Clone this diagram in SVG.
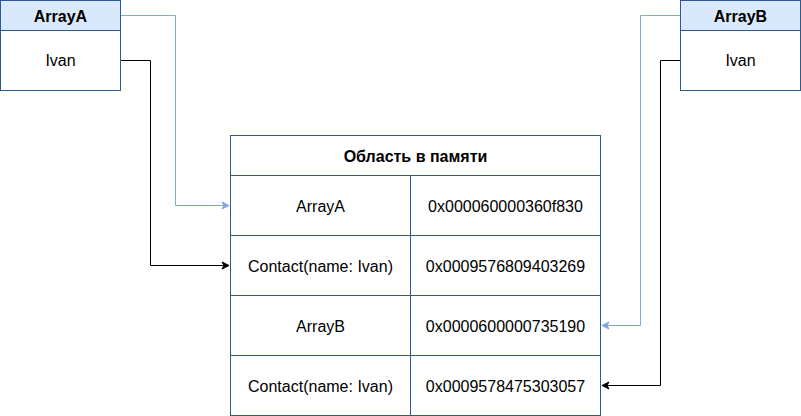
<svg xmlns="http://www.w3.org/2000/svg" width="801" height="416" viewBox="0 0 801 416">
<defs>
<style>
.box{fill:#ffffff;stroke:#2f5b8c;stroke-width:1}
.hdr{fill:#dae8fc;stroke:#2f5b8c;stroke-width:1}
.t{font-family:"Liberation Sans",Arial,sans-serif;font-size:16px;fill:#000;text-anchor:middle;dominant-baseline:central}
.b{font-weight:bold}
.blue{fill:none;stroke:#7ea6e0;stroke-width:1}
.black{fill:none;stroke:#000;stroke-width:1}
</style>
<marker id="ab" markerWidth="10" markerHeight="10" refX="8" refY="5" orient="auto" markerUnits="userSpaceOnUse"><path d="M1,1.5 L8,5 L1,8.5 L3,5 Z" fill="#7ea6e0" stroke="#7ea6e0"/></marker>
<marker id="ak" markerWidth="10" markerHeight="10" refX="8" refY="5" orient="auto" markerUnits="userSpaceOnUse"><path d="M1,1.5 L8,5 L1,8.5 L3,5 Z" fill="#000" stroke="#000"/></marker>
</defs>
<rect width="801" height="416" fill="#ffffff"/>
<g id="connectors">
<path class="blue" d="M120.5,15.5 H175.5 V205.5 H229" marker-end="url(#ab)"/>
<path class="black" d="M120.5,60.5 H150.5 V265.5 H229" marker-end="url(#ak)"/>
<path class="blue" d="M680.5,15.5 H640.5 V325.5 H602" marker-end="url(#ab)"/>
<path class="black" d="M680.5,60.5 H660.5 V385.5 H602" marker-end="url(#ak)"/>
</g>
<g id="arrayA">
<rect class="box" x="0.5" y="0.5" width="120" height="90"/>
<rect class="hdr" x="0.5" y="0.5" width="120" height="30"/>
<text class="t b" x="60.5" y="16">ArrayA</text>
<text class="t" x="60.5" y="60">Ivan</text>
</g>
<g id="arrayB">
<rect class="box" x="680.5" y="0.5" width="120" height="90"/>
<rect class="hdr" x="680.5" y="0.5" width="120" height="30"/>
<text class="t b" x="740.5" y="16">ArrayB</text>
<text class="t" x="740.5" y="60">Ivan</text>
</g>
<g id="memory">
<rect class="box" x="230.5" y="135.5" width="370" height="280"/>
<path class="box" d="M230.5,175.5 H600.5 M230.5,235.5 H600.5 M230.5,295.5 H600.5 M230.5,355.5 H600.5 M410.5,175.5 V415.5"/>
<text class="t b" x="415.5" y="156">Область в памяти</text>
<text class="t" x="320.5" y="206">ArrayA</text>
<text class="t" x="505.5" y="206">0x000060000360f830</text>
<text class="t" x="320.5" y="266">Contact(name: Ivan)</text>
<text class="t" x="505.5" y="266">0x0009576809403269</text>
<text class="t" x="320.5" y="326">ArrayB</text>
<text class="t" x="505.5" y="326">0x0000600000735190</text>
<text class="t" x="320.5" y="386">Contact(name: Ivan)</text>
<text class="t" x="505.5" y="386">0x0009578475303057</text>
</g>
</svg>
